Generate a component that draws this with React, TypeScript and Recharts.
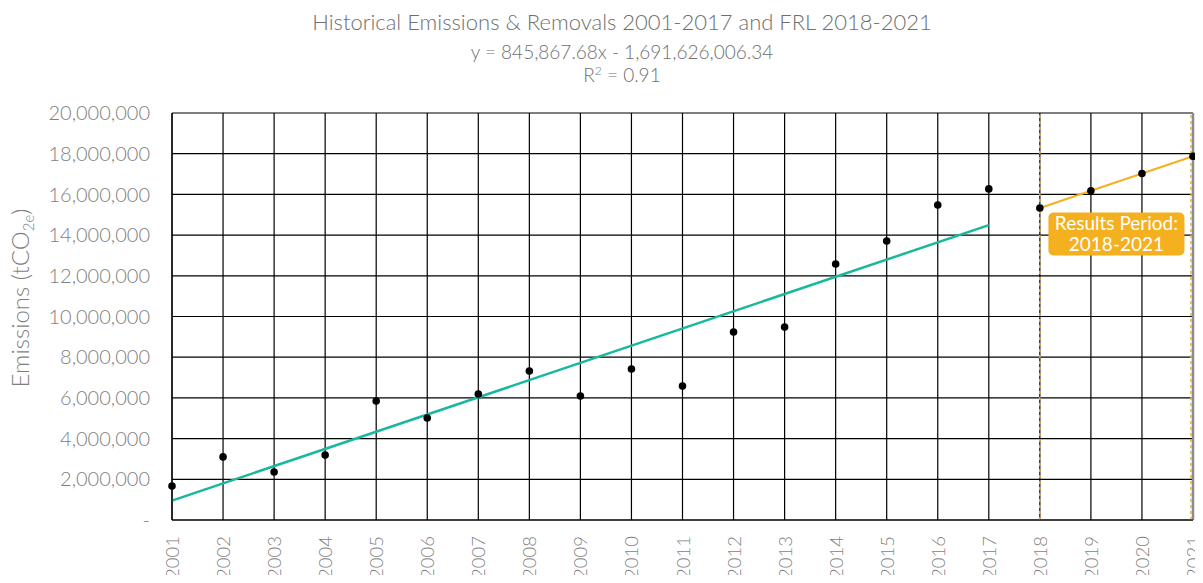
import React from "react";
import {
  ComposedChart,
  Line,
  Scatter,
  XAxis,
  YAxis,
  CartesianGrid,
  ReferenceLine,
  ReferenceDot,
} from "recharts";

// tick labels
const yearTicks = [
  2001, 2002, 2003, 2004, 2005, 2006, 2007, 2008, 2009, 2010, 2011,
  2012, 2013, 2014, 2015, 2016, 2017, 2018, 2019, 2020, 2021,
];
const emissionTicks = [
  0, 2000000, 4000000, 6000000, 8000000, 10000000, 12000000, 14000000,
  16000000, 18000000, 20000000,
];

// historical emissions 2001-2017
const histYears = [
  2001, 2002, 2003, 2004, 2005, 2006, 2007, 2008, 2009, 2010, 2011,
  2012, 2013, 2014, 2015, 2016, 2017,
];
const histEmissions = [
  1670000, 3100000, 2360000, 3190000, 5850000, 5010000, 6190000, 7320000,
  6090000, 7420000, 6580000, 9240000, 9480000, 12580000, 13710000,
  15480000, 16270000,
];

// FRL 2018-2021
const frlYears = [2018, 2019, 2020, 2021];
const frlValues = [15335024, 16180892, 17026759, 17872627];

// linear trend end points (2001 and 2017)
const trendYears = [2001, 2017];
const trendValues = [955221, 14489104];

const histData = histYears.map((x, i) => ({ x, y: histEmissions[i] }));
const frlData = frlYears.map((x, i) => ({ x, y: frlValues[i] }));
const trendData = trendYears.map((x, i) => ({ x, y: trendValues[i] }));

const FONT = "Lato, 'Open Sans', sans-serif";
const TEXT = "#7f7f7f";
const TEAL = "#17b99a";
const ORANGE = "#f5b01f";

const YearTick = (props: any) => {
  const { x, payload } = props;
  return (
    <g transform={`translate(${x},520)`}>
      <text
        transform="rotate(-90)"
        x={-16}
        dy={7}
        textAnchor="end"
        fill={TEXT}
        fontSize={18.5}
        fontFamily={FONT}
        fontWeight={300}
      >
        {payload.value}
      </text>
    </g>
  );
};

const YLabel = () => {
  return (
    <text
      transform="translate(20,298) rotate(-90)"
      textAnchor="middle"
      dy={9}
      fill={TEXT}
      fontSize={24}
      fontFamily={FONT}
      fontWeight={300}
    >
      Emissions (tCO
      <tspan fontSize={15} dy={5}>2e</tspan>
      <tspan dy={-5}>)</tspan>
    </text>
  );
};

const ResultsBox = (props: any) => {
  const { cx, cy } = props;
  return (
    <g>
      <rect x={cx - 68} y={cy - 21} width={136} height={43} rx={5} fill={ORANGE} />
      <text
        x={cx}
        y={cy - 3}
        textAnchor="middle"
        fill="#fff"
        fontSize={19}
        fontFamily={FONT}
      >
        Results Period:
      </text>
      <text
        x={cx}
        y={cy + 18}
        textAnchor="middle"
        fill="#fff"
        fontSize={19}
        fontFamily={FONT}
      >
        2018-2021
      </text>
    </g>
  );
};

export default function App() {
  return (
    <div
      style={{
        position: "relative",
        width: 1203,
        height: 583,
        margin: -8,
        background: "#fff",
        fontFamily: FONT,
        overflow: "hidden",
      }}
    >
      <div
        style={{
          position: "absolute",
          left: 0,
          width: 1244,
          top: 10,
          textAlign: "center",
          color: "#6f6f6f",
          fontWeight: 300,
          lineHeight: 1.1,
        }}
      >
        <div style={{ fontSize: 22 }}>
          Historical Emissions &amp; Removals 2001-2017 and FRL 2018-2021
        </div>
        <div style={{ fontSize: 19, marginTop: 8 }}>
          y = 845,867.68x - 1,691,626,006.34
        </div>
        <div style={{ fontSize: 19, marginTop: 1 }}>
          R<sup style={{ fontSize: 12, verticalAlign: "7px" }}>2</sup> = 0.91
        </div>
      </div>
      <ComposedChart
        width={1203}
        height={583}
        margin={{ top: 113, right: 10, bottom: 0, left: 0 }}
        style={{ position: "absolute", left: 0, top: 0 }}
      >
        <CartesianGrid stroke="#000" strokeWidth={1.2} />
        <XAxis
          dataKey="x"
          type="number"
          domain={[2001, 2021]}
          ticks={yearTicks}
          interval={0}
          height={63}
          tickLine={false}
          tickSize={0}
          tickMargin={0}
          axisLine={{ stroke: "#000", strokeWidth: 1.2 }}
          tick={<YearTick />}
        />
        <YAxis
          dataKey="y"
          type="number"
          domain={[0, 20000000]}
          ticks={emissionTicks}
          interval={0}
          width={172}
          tickLine={false}
          tickSize={0}
          tickMargin={22}
          axisLine={{ stroke: "#000", strokeWidth: 1.2 }}
          tickFormatter={(v: number) => (v === 0 ? "-" : v.toLocaleString("en-US"))}
          tick={{ fill: TEXT, fontSize: 20, fontFamily: FONT, fontWeight: 300 }}
          label={<YLabel />}
        />
        <ReferenceLine x={2021} stroke="#8c8c8c" strokeWidth={2.5} />
        <ReferenceLine x={2018} stroke={ORANGE} strokeWidth={1.5} strokeDasharray="3 3" />
        <ReferenceLine x={2020.96} stroke={ORANGE} strokeWidth={1.5} strokeDasharray="3 3" />
        <Line
          data={trendData}
          dataKey="y"
          type="linear"
          stroke={TEAL}
          strokeWidth={2.5}
          dot={false}
          isAnimationActive={false}
        />
        <Line
          data={frlData}
          dataKey="y"
          type="linear"
          stroke={ORANGE}
          strokeWidth={2}
          dot={false}
          isAnimationActive={false}
        />
        <Scatter
          data={histData}
          dataKey="y"
          fill="#000"
          shape={(p: any) => <circle cx={p.cx} cy={p.cy} r={3.8} fill="#000" />}
          isAnimationActive={false}
        />
        <Scatter
          data={frlData}
          dataKey="y"
          fill="#000"
          shape={(p: any) => <circle cx={p.cx} cy={p.cy} r={3.8} fill="#000" />}
          isAnimationActive={false}
        />
        <ReferenceDot x={2019.5} y={14080000} r={0} shape={<ResultsBox />} />
      </ComposedChart>
    </div>
  );
}
